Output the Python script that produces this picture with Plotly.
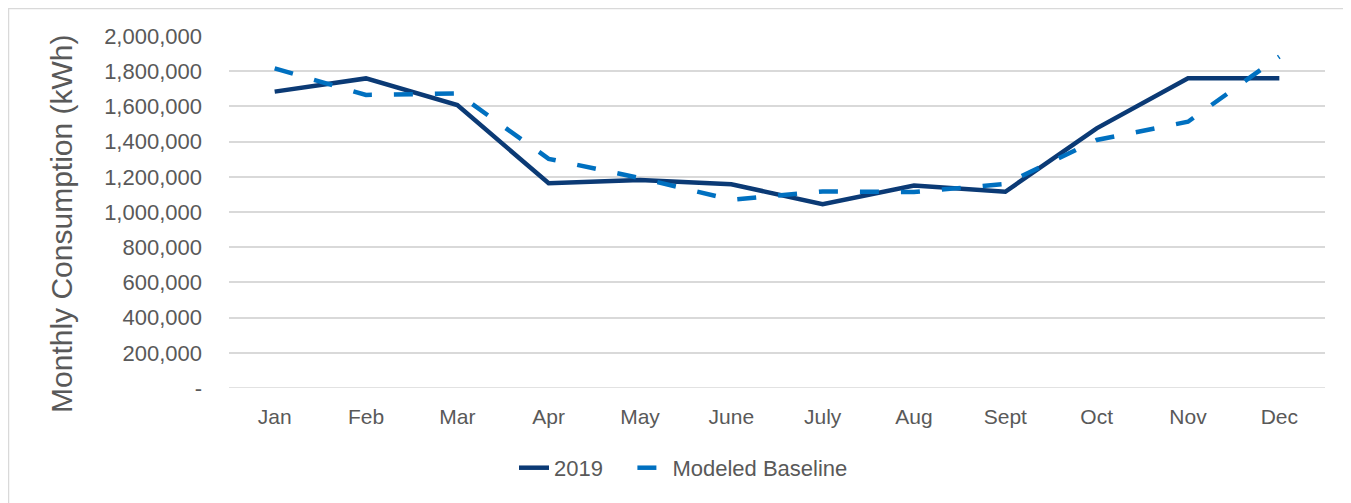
import plotly.graph_objects as go

months = ["Jan", "Feb", "Mar", "Apr", "May", "June", "July", "Aug", "Sept", "Oct", "Nov", "Dec"]
actual_2019 = [1684000, 1759000, 1608000, 1163000, 1182000, 1158000, 1044000, 1150000, 1115000, 1475000, 1760000, 1760000]
modeled_baseline = [1816000, 1665000, 1674000, 1302000, 1193000, 1070000, 1117000, 1113000, 1160000, 1409000, 1513000, 1883000]
y_tickvals = [0, 200000, 400000, 600000, 800000, 1000000, 1200000, 1400000, 1600000, 1800000, 2000000]
y_ticktext = ["-"] + [f"{v:,}" for v in y_tickvals[1:]]

FONT = "Liberation Sans, Arial, sans-serif"
GRAY = "#595959"
NB = "\u00a0"

fig = go.Figure()
fig.add_trace(go.Scatter(
    x=months, y=actual_2019, name="2019" + NB * 4, mode="lines",
    line=dict(color="#0B3A75", width=4.5),
))
fig.add_trace(go.Scatter(
    x=months, y=modeled_baseline, name="Modeled Baseline", mode="lines",
    line=dict(color="#0070C0", width=4.5, dash="19px,22px"),
))

fig.update_layout(
    width=1343, height=495,
    margin=dict(l=221, r=26, t=28, b=115),
    paper_bgcolor="white", plot_bgcolor="white",
    font=dict(family=FONT, color=GRAY, size=21),
    showlegend=True,
    legend=dict(orientation="h", x=0.4147, xanchor="center", y=-0.227, yanchor="middle",
                font=dict(size=22, color=GRAY)),
    xaxis=dict(type="category", range=[-0.5, 11.5], showgrid=False, showline=False,
               zeroline=False, ticks="", tickfont=dict(size=21, color=GRAY),
               ticklabelstandoff=14),
    yaxis=dict(range=[0, 2000000], tickvals=y_tickvals, ticktext=y_ticktext,
               showgrid=True, gridcolor="#D9D9D9", gridwidth=1.5, zeroline=False,
               showline=False, ticks="", tickfont=dict(size=22, color=GRAY),
               ticklabelstandoff=26),
    shapes=[
        dict(type="rect", xref="paper", yref="paper", x0=-0.2012, x1=1.05, y0=-0.36, y1=1.078,
             line=dict(color="#D9D9D9", width=1.5), fillcolor="rgba(0,0,0,0)", layer="below"),
        dict(type="line", xref="paper", yref="y", x0=0, x1=1, y0=0, y1=0,
             line=dict(color="#D9D9D9", width=1.5), layer="below"),
    ],
    annotations=[
        dict(text="Monthly Consumption (kWh)", xref="paper", yref="paper",
             x=-0.1524, y=0.466, textangle=-90, showarrow=False,
             font=dict(size=30, color=GRAY, family=FONT), xanchor="center", yanchor="middle"),
    ],
)

fig.write_html("out.html")
